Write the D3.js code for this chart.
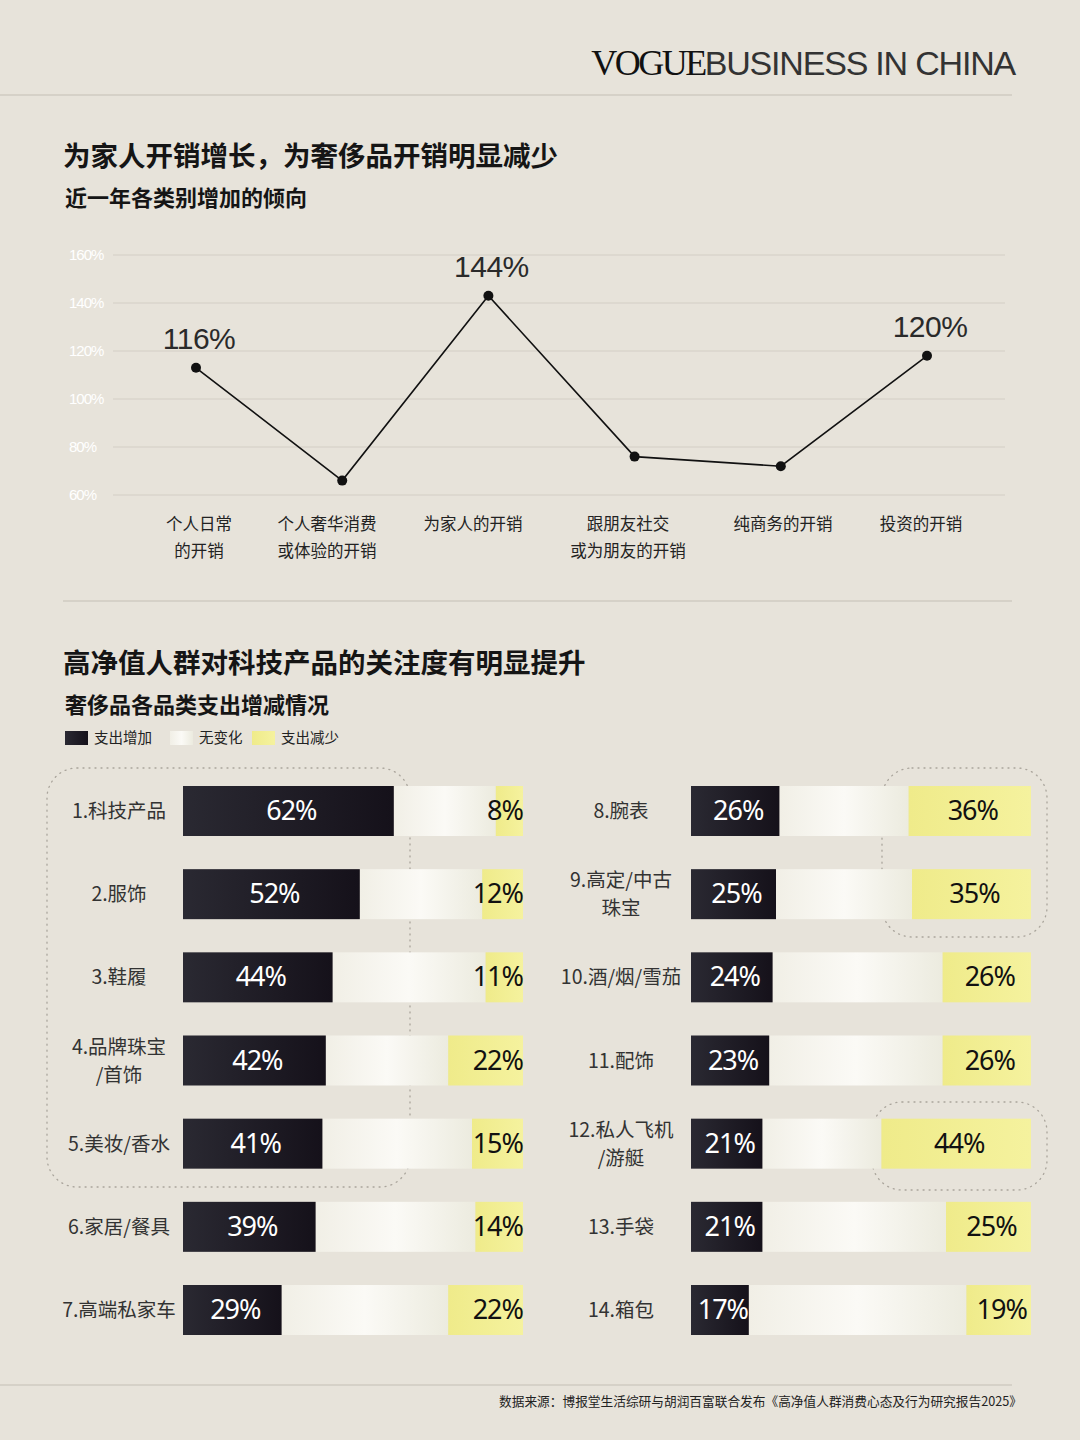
<!DOCTYPE html>
<html><head><meta charset="utf-8">
<script src="https://cdn.jsdelivr.net/npm/d3@7"></script>
<style>
body{margin:0;background:#e7e3da;}
svg{display:block;font-family:"Noto Sans CJK SC","Noto Sans",sans-serif;}
</style></head>
<body>
<svg id="vis" width="1080" height="1440"></svg>
<script>
var lineCats = ["个人日常\n的开销", "个人奢华消费\n或体验的开销", "为家人的开销", "跟朋友社交\n或为朋友的开销", "纯商务的开销", "投资的开销"];
var lineVals = [113, 66, 143, 76, 72, 118];
var lineLabels = ["116%", null, "144%", null, null, "120%"];
var yTicks = [60, 80, 100, 120, 140, 160];

var leftCats = ["1.科技产品", "2.服饰", "3.鞋履", "4.品牌珠宝\n/首饰", "5.美妆/香水", "6.家居/餐具", "7.高端私家车"];
var leftUp = [62, 52, 44, 42, 41, 39, 29];
var leftDown = [8, 12, 11, 22, 15, 14, 22];
var rightCats = ["8.腕表", "9.高定/中古\n珠宝", "10.酒/烟/雪茄", "11.配饰", "12.私人飞机\n/游艇", "13.手袋", "14.箱包"];
var rightUp = [26, 25, 24, 23, 21, 21, 17];
var rightDown = [36, 35, 26, 26, 44, 25, 19];

var svg = d3.select("#vis");
svg.append("rect").attr("width", 1080).attr("height", 1440).attr("fill", "#e7e3da");

var defs = svg.append("defs");
var gB = defs.append("linearGradient").attr("id", "gB");
gB.append("stop").attr("offset", "0").attr("stop-color", "#2a2932");
gB.append("stop").attr("offset", "1").attr("stop-color", "#15111a");
var gW = defs.append("linearGradient").attr("id", "gW");
gW.append("stop").attr("offset", "0").attr("stop-color", "#f1efe6");
gW.append("stop").attr("offset", "0.5").attr("stop-color", "#fbfaf6");
gW.append("stop").attr("offset", "1").attr("stop-color", "#ecebdf");
var gY = defs.append("linearGradient").attr("id", "gY");
gY.append("stop").attr("offset", "0").attr("stop-color", "#efeb8a");
gY.append("stop").attr("offset", "1").attr("stop-color", "#f5f29e");

// header
var hdr = svg.append("text").attr("x", 1015).attr("y", 75).attr("text-anchor", "end");
hdr.append("tspan").text("VOGUE").attr("font-family", "Liberation Serif, serif").attr("font-size", 36).attr("letter-spacing", -2.5).attr("fill", "#111");
hdr.append("tspan").text("BUSINESS IN CHINA").attr("font-family", "Liberation Sans Narrow, Liberation Sans, sans-serif").attr("font-size", 34).attr("letter-spacing", -1.2).attr("fill", "#333");
svg.append("line").attr("x1", 0).attr("x2", 1012).attr("y1", 95).attr("y2", 95).attr("stroke", "#c4bfb5");

function titles(y, t1, t2) {
  svg.append("text").attr("x", 63).attr("y", y).text(t1).attr("font-size", 27.5).attr("font-weight", "bold").attr("fill", "#151515");
  svg.append("text").attr("x", 65).attr("y", y + 40).text(t2).attr("font-size", 22).attr("font-weight", "bold").attr("fill", "#151515");
}
titles(166, "为家人开销增长，为奢侈品开销明显减少", "近一年各类别增加的倾向");

// line chart
var y = d3.scaleLinear().domain([60, 160]).range([495, 255]);
var x = d3.scalePoint().domain(d3.range(6)).range([196, 927]);
var g = svg.append("g");
g.selectAll(".grid").data(yTicks).enter().append("line")
  .attr("x1", 113).attr("x2", 1005).attr("y1", y).attr("y2", y).attr("stroke", "#d3cec5");
g.selectAll(".yt").data(yTicks).enter().append("text")
  .attr("x", 69).attr("y", function(d){ return y(d) + 5; }).text(function(d){ return d + "%"; })
  .attr("font-family", "Liberation Sans Narrow, sans-serif").attr("font-size", 15).attr("fill", "#fff").attr("letter-spacing", -1);
g.append("path").datum(lineVals)
  .attr("d", d3.line().x(function(d, i){ return x(i); }).y(function(d){ return y(d); }))
  .attr("fill", "none").attr("stroke", "#111").attr("stroke-width", 1.6);
g.selectAll(".pt").data(lineVals).enter().append("circle")
  .attr("cx", function(d, i){ return x(i); }).attr("cy", y).attr("r", 5).attr("fill", "#111");
lineVals.forEach(function(d, i){
  if (!lineLabels[i]) return;
  g.append("text").attr("x", x(i) + 3).attr("y", y(d) - 19).attr("text-anchor", "middle").text(lineLabels[i])
    .attr("font-family", "Liberation Sans Narrow, sans-serif").attr("font-size", 30).attr("fill", "#2a2a2a").attr("letter-spacing", -0.5);
});
var xl = g.selectAll(".xl").data(lineCats).enter().append("text")
  .attr("text-anchor", "middle").attr("font-size", 16.5).attr("fill", "#222");
xl.each(function(d, i){
  var t = d3.select(this);
  d.split("\n").forEach(function(s, k){
    t.append("tspan").attr("x", [199, 327, 473, 628, 783, 921][i]).attr("y", 530 + k * 27).text(s);
  });
});
svg.append("line").attr("x1", 63).attr("x2", 1012).attr("y1", 601).attr("y2", 601).attr("stroke", "#c4bfb5");

titles(673, "高净值人群对科技产品的关注度有明显提升", "奢侈品各品类支出增减情况");

// legend
var leg = [["url(#gB)", "支出增加", 65], ["url(#gW)", "无变化", 170], ["url(#gY)", "支出减少", 252]];
leg.forEach(function(l){
  svg.append("rect").attr("x", l[2]).attr("y", 731).attr("width", 23).attr("height", 14).attr("fill", l[0]);
  svg.append("text").attr("x", l[2] + 29).attr("y", 743).text(l[1]).attr("font-size", 14.5).attr("fill", "#222");
});

// dotted boxes
[[47, 768, 363, 419], [882, 768, 165, 169], [872, 1102, 175, 88]].forEach(function(b){
  svg.append("rect").attr("x", b[0]).attr("y", b[1]).attr("width", b[2]).attr("height", b[3]).attr("rx", 30)
    .attr("fill", "none").attr("stroke", "#aaa59c").attr("stroke-width", 1.3).attr("stroke-dasharray", "1 5").attr("stroke-linecap", "round");
});

var rowY = d3.scalePoint().domain(d3.range(7)).range([811, 1310]);
function bars(cats, up, down, x0, labelX, centerDown) {
  var sx = d3.scaleLinear().domain([0, 100]).range([x0, x0 + 340]);
  var gg = svg.append("g");
  cats.forEach(function(c, i){
    var cy = rowY(i), h = 50;
    gg.append("rect").attr("x", sx(up[i])).attr("y", cy - h/2).attr("width", sx(100 - down[i]) - sx(up[i])).attr("height", h).attr("fill", "url(#gW)");
    gg.append("rect").attr("x", sx(0)).attr("y", cy - h/2).attr("width", sx(up[i]) - sx(0)).attr("height", h).attr("fill", "url(#gB)");
    gg.append("rect").attr("x", sx(100 - down[i])).attr("y", cy - h/2).attr("width", sx(100) - sx(100 - down[i])).attr("height", h).attr("fill", "url(#gY)");
    gg.append("text").attr("x", (sx(0) + sx(up[i])) / 2 + 3).attr("y", cy + 9).attr("text-anchor", "middle")
      .text(up[i] + "%").attr("font-family", "Noto Sans, sans-serif").attr("font-size", 27).attr("letter-spacing", -1).attr("fill", "#fff");
    gg.append("text")
      .attr("x", centerDown ? (sx(100 - down[i]) + sx(100)) / 2 + 3 : sx(100))
      .attr("y", cy + 9).attr("text-anchor", centerDown ? "middle" : "end")
      .text(down[i] + "%").attr("font-family", "Noto Sans, sans-serif").attr("font-size", 27).attr("letter-spacing", -1).attr("fill", "#111");
    var lines = c.split("\n");
    var t = gg.append("text").attr("text-anchor", "middle").attr("font-size", 19.5).attr("fill", "#333");
    lines.forEach(function(s, k){
      t.append("tspan").attr("x", labelX).attr("y", cy + 7 + (k - (lines.length - 1) / 2) * 28).text(s);
    });
  });
}
bars(leftCats, leftUp, leftDown, 183, 119, false);
bars(rightCats, rightUp, rightDown, 691, 621, true);

svg.append("line").attr("x1", 0).attr("x2", 1012).attr("y1", 1385).attr("y2", 1385).attr("stroke", "#c4bfb5");
svg.append("text").attr("x", 1022).attr("y", 1406).attr("text-anchor", "end")
  .text("数据来源：博报堂生活综研与胡润百富联合发布《高净值人群消费心态及行为研究报告2025》").attr("font-size", 12.7).attr("fill", "#222");
</script>
</body></html>
